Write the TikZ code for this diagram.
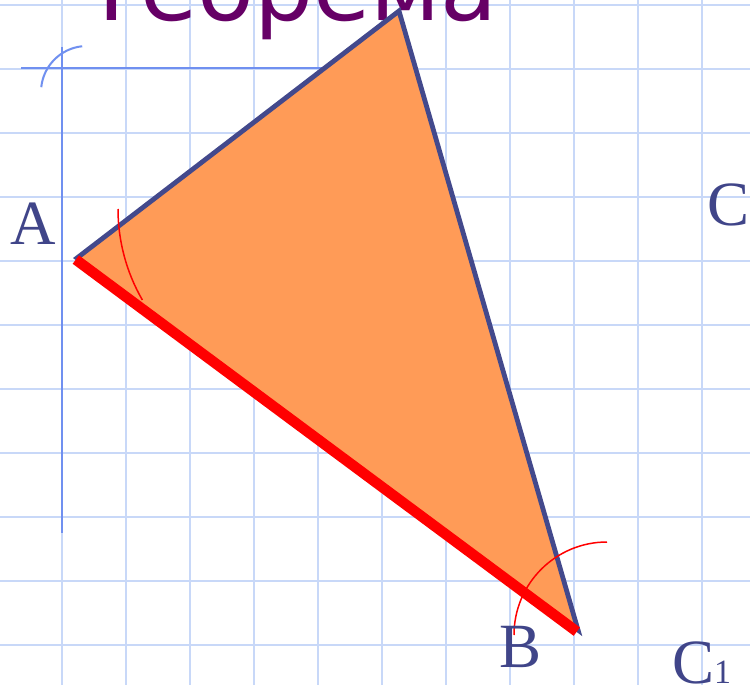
\documentclass[tikz,border=0pt]{standalone}
\usepackage{fontspec}
\setmainfont{Liberation Serif}
\newfontfamily\titlefont{DejaVu Sans}
\definecolor{gridblue}{RGB}{200,216,248}
\definecolor{axisblue}{RGB}{112,144,240}
\definecolor{triblue}{RGB}{67,73,140}
\definecolor{trifill}{RGB}{255,155,87}
\definecolor{labelblue}{RGB}{64,69,137}
\definecolor{titlepurple}{RGB}{102,0,102}
\tikzset{
  gridline/.style={draw=gridblue, line width=2pt},
  axisline/.style={draw=axisblue, line width=2pt},
  triangle/.style={draw=triblue, fill=trifill, line width=4.8pt, line join=miter},
  redside/.style={draw=red, line width=10.5pt, line cap=butt},
  redarc/.style={draw=red, line width=1.5pt},
  blueArc/.style={draw=axisblue, line width=2pt},
  ptlabel/.style={text=labelblue, font=\fontsize{63}{63}\selectfont, inner sep=0pt},
  titletext/.style={text=titlepurple, font=\titlefont\fontsize{93}{93}\selectfont, inner sep=0pt}
}
\begin{document}
\begin{tikzpicture}[x=1pt,y=-1pt]
\useasboundingbox (0,0) rectangle (750,685);
\clip (0,0) rectangle (750,685);
\fill[white] (0,0) rectangle (750,685);
\foreach \i in {-1,...,11} \draw[gridline] ({62+64*\i},0) -- ({62+64*\i},685);
\foreach \j in {0,...,10} \draw[gridline] (0,{5+64*\j}) -- (750,{5+64*\j});
% title
\node[titletext, anchor=base west] (title) at (83,21) {Теорема};
% axes
\coordinate (hx1) at (21,68);
\coordinate (hx2) at (330,68);
\coordinate (vy1) at (62,47);
\coordinate (vy2) at (62,533);
\draw[axisline] (hx1) -- (hx2);
\draw[axisline] (vy1) -- (vy2);
\coordinate (bc) at (87,92);
\draw[blueArc] (bc) ++(-96:46) arc[start angle=-96, end angle=-174, radius=46];
% triangle
\coordinate (A) at (77,258);
\coordinate (T) at (399,11);
\coordinate (B) at (578,630);
\draw[triangle] (A) -- (T) -- (B) -- cycle;
\draw[redside] ([shift={(-1.2,1.6)}]A) -- ([shift={(-1.2,1.6)}]B);
% construction arcs
\coordinate (ra) at (300,209);
\draw[redarc] (ra) ++(180:182) arc[start angle=180, end angle=150, radius=182];
\coordinate (rb) at (607,635);
\draw[redarc] (rb) ++(-90:93) arc[start angle=-90, end angle=-180, radius=93];
% labels
\node[ptlabel, anchor=base] (lA) at (33,244) {A};
\node[ptlabel, anchor=base] (lB) at (521,667) {B};
\node[ptlabel, anchor=base west] (lC) at (707,225) {C};
\node[ptlabel, anchor=base west] (lC1) at (672,683) {C{\fontsize{34}{34}\selectfont 1}};
\end{tikzpicture}
\end{document}
